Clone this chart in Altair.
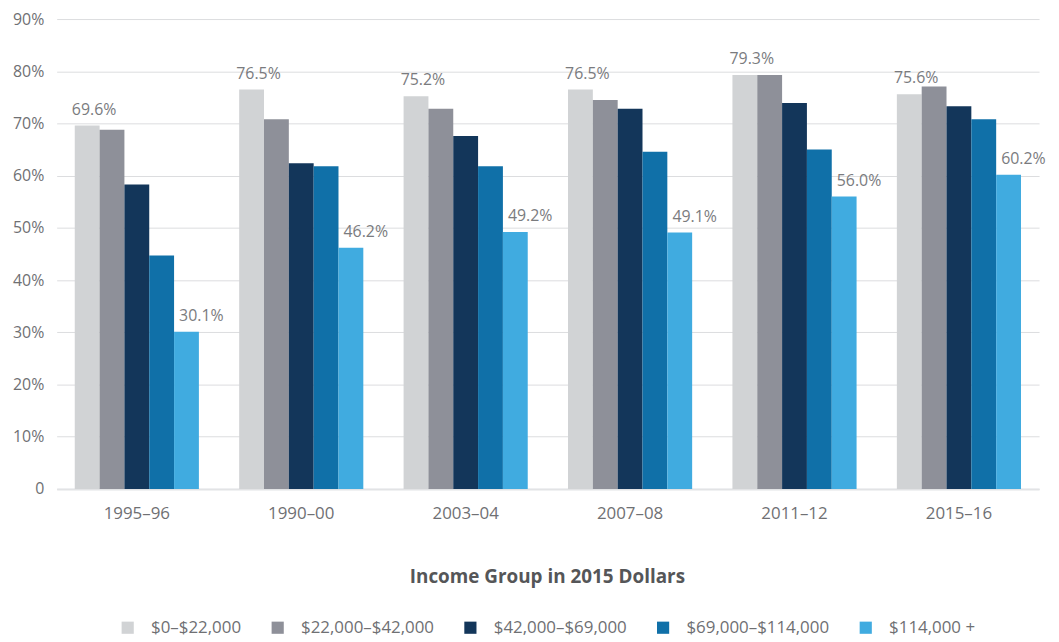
import altair as alt
import pandas as pd

periods = ["1995–96", "1990–00", "2003–04", "2007–08", "2011–12", "2015–16"]
groups = ["$0–$22,000", "$22,000–$42,000", "$42,000–$69,000", "$69,000–$114,000", "$114,000 +"]
colors = ["#d1d3d5", "#8e9099", "#13365a", "#1070a8", "#40abe0"]

g1 = [69.6, 76.5, 75.2, 76.5, 79.3, 75.6]
g2 = [68.8, 70.8, 72.8, 74.5, 79.3, 77.1]
g3 = [58.3, 62.4, 67.6, 72.8, 73.9, 73.3]
g4 = [44.7, 61.8, 61.8, 64.6, 65.0, 70.8]
g5 = [30.1, 46.2, 49.2, 49.1, 56.0, 60.2]
series = [g1, g2, g3, g4, g5]

rows = []
for gi, (g, vals) in enumerate(zip(groups, series)):
    for p, v in zip(periods, vals):
        rows.append({"period": p, "group": g, "gidx": gi, "value": v})
df = pd.DataFrame(rows)

FONT = "Open Sans"
GRAY = "#6f7073"

x = alt.X("period:N", sort=periods, title=None,
          scale=alt.Scale(paddingInner=0.245, paddingOuter=0.11),
          axis=alt.Axis(labelAngle=0, labelFontSize=17, labelColor=GRAY, labelFont=FONT,
                        labelPadding=17, ticks=False, domainColor="#e2e3e5", domainWidth=2,
                        grid=False))
xo = alt.XOffset("group:N", sort=groups)
y = alt.Y("value:Q", title=None,
          scale=alt.Scale(domain=[0, 90]),
          axis=alt.Axis(values=list(range(0, 91, 10)), labelExpr="datum.value == 0 ? '0' : datum.value + '%'",
                        labelFontSize=16, labelColor=GRAY, labelFont=FONT, labelPadding=13,
                        ticks=False, domain=False, gridColor="#dcdddf", gridWidth=1))

base = alt.Chart(df)

bars = base.mark_bar().encode(
    x=x, xOffset=xo, y=y,
    color=alt.Color("group:N", sort=groups,
                    scale=alt.Scale(domain=groups, range=colors),
                    legend=alt.Legend(title="Income Group in 2015 Dollars", orient="none",
                                      legendX=63, legendY=553, direction="horizontal",
                                      titleAnchor="middle", titleFontSize=19, titleFont=FONT,
                                      titleFontWeight="bold", titleColor="#555658",
                                      titleLimit=1000, labelLimit=1000,
                                      titlePadding=32, labelFontSize=17, labelFont=FONT,
                                      labelColor=GRAY, symbolType="square", symbolSize=150,
                                      symbolStrokeWidth=0, labelOffset=15, columnPadding=28)),
)

lab_common = dict(fontSize=16, font=FONT, color="#7a7b7e", baseline="bottom", dy=-8)

lab1 = base.transform_filter(alt.datum.gidx == 0).transform_calculate(
    lbl="format(datum.value, '.1f') + '%'"
).mark_text(dx=7, **lab_common).encode(x=x, xOffset=xo, y=y, text="lbl:N")

lab5 = base.transform_filter(alt.datum.gidx == 4).transform_calculate(
    lbl="format(datum.value, '.1f') + '%'"
).mark_text(dx=15, **lab_common).encode(x=x, xOffset=xo, y=y, text="lbl:N")

chart = alt.layer(bars, lab1, lab5).properties(
    width=989, height=473,
    padding={"left": 4, "top": 1, "right": 5, "bottom": 5},
).configure_view(stroke=None)

chart.save("out.html", embed_options={"renderer": "svg", "actions": False})
